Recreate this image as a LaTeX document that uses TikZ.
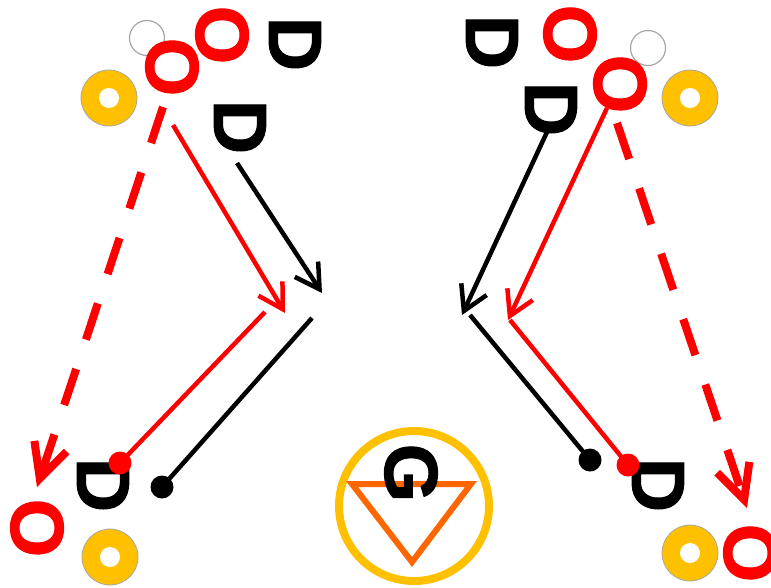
\documentclass[tikz,border=0pt]{standalone}
\usepackage{fontspec}
\usetikzlibrary{arrows.meta}
\newfontfamily\pfont[FakeBold=1.5]{Liberation Sans Bold}
\definecolor{hred}{HTML}{FF0000}
\definecolor{hyel}{HTML}{FFC000}
\definecolor{horg}{HTML}{FF6600}
\definecolor{hgray}{HTML}{A6A6A6}
\tikzset{
  letter/.style={inner sep=0pt, rotate=-90, font=\pfont\fontsize{75}{75}\selectfont},
  defp/.style={letter, text=black},
  attp/.style={letter, text=hred},
  cone/.style={circle, fill=hyel, draw=hgray, line width=0.8pt, minimum size=56pt, inner sep=0pt,
    path picture={\fill[white] (path picture bounding box.center) circle (10pt);}},
  puck/.style={circle, fill=white, draw=hgray, line width=1.2pt, minimum size=35pt, inner sep=0pt},
  enddot/.style={circle, inner sep=0pt, minimum size=23pt},
  run/.style={line width=4.5pt, -{Straight Barb[length=24pt,width=28pt,line width=4.5pt]}},
  plain/.style={line width=4.5pt},
  dashrun/.style={hred, line width=8pt, dash pattern=on 38pt off 31pt, -{Straight Barb[length=34pt,width=34pt,line width=8pt]}},
}
\begin{document}
\begin{tikzpicture}[x=1pt,y=-1pt]
\useasboundingbox (0,0) rectangle (771,587);
% cones
\node[cone] (c1) at (109,98) {};
\node[cone] (c2) at (110,557) {};
\node[cone] (c3) at (690,98) {};
\node[cone] (c4) at (690,553) {};
% pucks
\node[puck] (p1) at (147,38) {};
\node[puck] (p2) at (648,48) {};
% players left
\node[attp] (O1) at (222,35) {O};
\node[attp] (O2) at (172,67) {O};
\node[defp] (D1) at (295,44) {D};
\node[defp] (D2) at (240,127) {D};
\node[defp] (D3) at (103,485) {D};
\node[attp] (O3) at (37,528) {O};
% players right
\node[defp] (D4) at (492,42) {D};
\node[attp] (O4) at (570,34) {O};
\node[attp] (O5) at (620,84) {O};
\node[defp] (D5) at (551,109) {D};
\node[defp] (D6) at (658,485) {D};
\node[attp] (O6) at (750,553) {O};
% goal
\node[circle, draw=hyel, line width=8pt, minimum size=150pt, inner sep=0pt] (goal) at (414,506) {};
\draw[horg, line width=6pt, line join=miter] (352,484) -- (471,484) -- (412,562) -- cycle;
\node[defp] (G) at (411,473) {G};
% end dots
\node[enddot, fill=hred] (rd1) at (120,463) {};
\node[enddot, fill=black] (bd1) at (162,487) {};
\node[enddot, fill=black] (bd2) at (590,460) {};
\node[enddot, fill=hred] (rd2) at (628,465) {};
% coordinates
\coordinate (a1) at (163,107); \coordinate (a1e) at (37,487);
\coordinate (a2) at (173,125); \coordinate (a2e) at (285,313);
\coordinate (a3) at (237,163); \coordinate (a3e) at (322,293);
\coordinate (a4) at (265,312);
\coordinate (a5) at (312,318);
\coordinate (b1) at (617,123); \coordinate (b1e) at (747,508);
\coordinate (b2) at (607,108); \coordinate (b2e) at (508,320);
\coordinate (b3) at (547,132); \coordinate (b3e) at (462,315);
\coordinate (b4) at (470,315);
\coordinate (b5) at (510,320);
% connectors left
\draw[dashrun] (a1) -- (a1e);
\draw[run, hred] (a2) -- (a2e);
\draw[run, black] (a3) -- (a3e);
\draw[plain, hred] (a4) -- (rd1.center);
\draw[plain, black] (a5) -- (bd1.center);
% connectors right
\draw[dashrun] (b1) -- (b1e);
\draw[run, hred] (b2) -- (b2e);
\draw[run, black] (b3) -- (b3e);
\draw[plain, black] (b4) -- (bd2.center);
\draw[plain, hred] (b5) -- (rd2.center);
\end{tikzpicture}
\end{document}
